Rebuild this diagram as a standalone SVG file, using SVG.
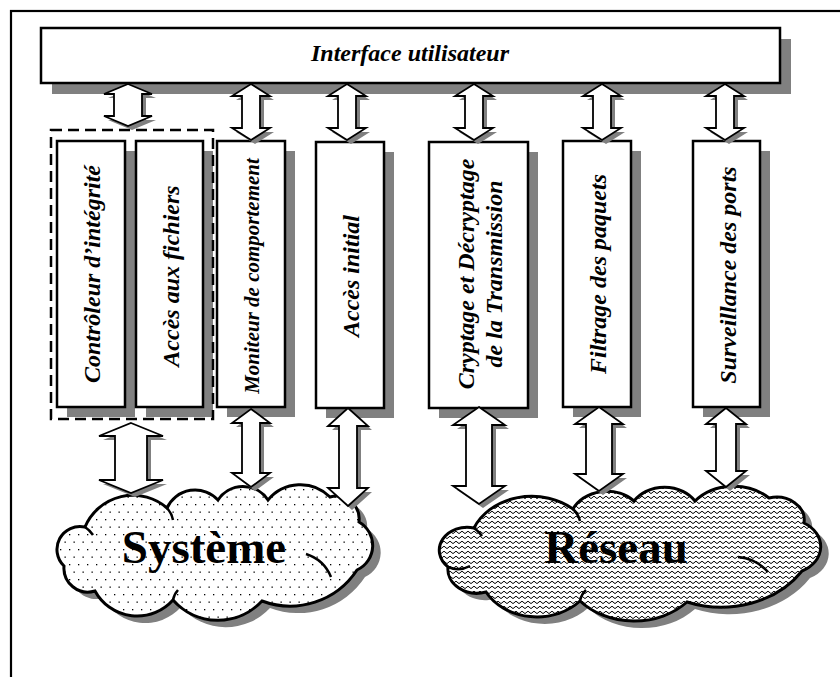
<svg xmlns="http://www.w3.org/2000/svg" xmlns:xlink="http://www.w3.org/1999/xlink" width="840" height="677" viewBox="0 0 840 677">
<style>
.shadow{fill:#808080;stroke:none}
.box{fill:#fff;stroke:#000;stroke-width:2.5}
.arr{fill:#fff;stroke:#000;stroke-width:1.8;stroke-linejoin:miter}
.lbl{font-family:"Liberation Serif","Times New Roman",serif;font-weight:bold;font-style:italic;fill:#000}
.big{font-family:"Liberation Serif","Times New Roman",serif;font-weight:bold;font-size:47px;fill:#000;text-anchor:middle}
.cloud{stroke:#000;stroke-width:3}
.inner{fill:none;stroke:#000;stroke-width:2.5}
</style>
<defs>
<pattern id="dots" patternUnits="userSpaceOnUse" width="9" height="15">
<rect width="9" height="15" fill="#fff"/>
<rect x="1.5" y="1.5" width="1.3" height="1.3" fill="#000"/>
<rect x="6" y="9" width="1.3" height="1.3" fill="#000"/>
</pattern>
<pattern id="zig" patternUnits="userSpaceOnUse" width="6" height="5">
<rect width="6" height="5" fill="#fff"/>
<path d="M0,1.2 L3,3.6 L6,1.2" fill="none" stroke="#000" stroke-width="1"/>
</pattern>
<path id="cloudS" d="M85,527 A23,23 0 0 0 64,566 A24,24 0 0 0 95,591 A48,48 0 0 0 173,600 A60,60 0 0 0 262,601 A80,80 0 0 0 357,570 A27,27 0 0 0 359,522 A23,23 0 0 0 330,497 A42,42 0 0 0 268,500 A30,30 0 0 0 218,500 A31,31 0 0 0 167,508 A52,52 0 0 0 85,527 Z"/>
<path id="cloudR" d="M474,528 A27.8,23 0 0 0 448,567 A29,24 0 0 0 486,592 A58,48 0 0 0 580,601 A72.4,60 0 0 0 687,602 A96.6,80 0 0 0 802,571 A32.6,27 0 0 0 804,523 A27.8,23 0 0 0 769,498 A50.7,42 0 0 0 695,501 A36.2,30 0 0 0 634,501 A37.4,31 0 0 0 573,509 A62.8,52 0 0 0 474,528 Z"/>
<path id="a0" d="M128,84 L152,94 L142,94 L142,116 L152,116 L128,126 L104,116 L114,116 L114,94 L104,94 Z"/>
<path id="a1" d="M251,84 L270,96 L260,96 L260,128 L270,128 L251,140 L232,128 L242,128 L242,96 L232,96 Z"/>
<path id="a2" d="M347,84 L366,96 L356,96 L356,128 L366,128 L347,140 L328,128 L338,128 L338,96 L328,96 Z"/>
<path id="a3" d="M474,84 L493,96 L483,96 L483,128 L493,128 L474,140 L455,128 L465,128 L465,96 L455,96 Z"/>
<path id="a4" d="M602,84 L621,96 L611,96 L611,128 L621,128 L602,140 L583,128 L593,128 L593,96 L583,96 Z"/>
<path id="a5" d="M725,84 L744,96 L734,96 L734,128 L744,128 L725,140 L706,128 L716,128 L716,96 L706,96 Z"/>
<path id="b0" d="M131,423 L163,436 L147,436 L147,480 L163,480 L131,493 L99,480 L115,480 L115,436 L99,436 Z"/>
<path id="b1" d="M251,409 L270,423 L260,423 L260,473 L270,473 L251,487 L232,473 L242,473 L242,423 L232,423 Z"/>
<path id="b2" d="M348,408 L368,426 L357,426 L357,488 L368,488 L348,506 L328,488 L339,488 L339,426 L328,426 Z"/>
<path id="b3" d="M479,407 L505,425 L492,425 L492,486 L505,486 L479,504 L453,486 L466,486 L466,425 L453,425 Z"/>
<path id="b4" d="M599,407 L623,424 L612,424 L612,474 L623,474 L599,491 L575,474 L586,474 L586,424 L575,424 Z"/>
<path id="b5" d="M726,408 L746,424 L736,424 L736,471 L746,471 L726,487 L706,471 L716,471 L716,424 L706,424 Z"/>
</defs>
<rect x="0" y="0" width="840" height="677" fill="#fff"/>
<rect id="frame" x="11" y="11" width="850" height="700" fill="none" stroke="#000" stroke-width="2.2"/>

<g id="systeme">
<use xlink:href="#cloudS" class="shadow" transform="translate(8,7)"/>
<use xlink:href="#cloudS" class="cloud" fill="url(#dots)"/>
<path class="inner" d="M306,554 A40,40 0 0 1 331,577 M173,600 A20,20 0 0 1 178,590 M167,508 A25,25 0 0 1 173,520 M85,527 A30,30 0 0 1 93,535"/>
<text class="big" x="204" y="563">Système</text>
</g>
<g id="reseau">
<use xlink:href="#cloudR" class="shadow" transform="translate(8,7)"/>
<use xlink:href="#cloudR" class="cloud" fill="url(#zig)"/>
<path class="inner" d="M738,557 A45,45 0 0 1 768,572 M580,601 A20,20 0 0 1 586,590 M573,509 A25,25 0 0 1 580,521 M474,528 A30,30 0 0 1 482,536 M448,567 A25,25 0 0 0 470,566"/>
<text class="big" x="616" y="563">Réseau</text>
</g>

<g id="interface">
<rect class="shadow" x="52" y="39" width="739" height="55"/>
<rect class="box" x="41" y="28" width="739" height="55"/>
<text class="lbl" x="410" y="61" font-size="24" text-anchor="middle">Interface utilisateur</text>
</g>

<g id="box-shadows">
<rect class="shadow" x="67" y="151" width="68" height="266"/>
<rect class="shadow" x="146" y="151" width="67" height="266"/>
<rect class="shadow" x="227" y="151" width="68" height="266"/>
<rect class="shadow" x="326" y="152" width="68" height="266"/>
<rect class="shadow" x="439" y="152" width="99" height="266"/>
<rect class="shadow" x="573" y="151" width="68" height="266"/>
<rect class="shadow" x="703" y="151" width="67" height="266"/>
</g>

<g id="controleur">
<rect class="box" x="57" y="141" width="68" height="266"/>
<text class="lbl" font-size="24" text-anchor="middle" transform="translate(91,274) rotate(-90)" x="0" y="9">Contrôleur d’intégrité</text>
</g>
<g id="acces-fichiers">
<rect class="box" x="136" y="141" width="67" height="266"/>
<text class="lbl" font-size="24" text-anchor="middle" transform="translate(169.5,276) rotate(-90)" x="0" y="9">Accès aux fichiers</text>
</g>
<g id="moniteur">
<rect class="box" x="217" y="141" width="68" height="266"/>
<text class="lbl" font-size="21" text-anchor="middle" transform="translate(251,276) rotate(-90)" x="0" y="8">Moniteur de comportement</text>
</g>
<g id="acces-initial">
<rect class="box" x="316" y="142" width="68" height="266"/>
<text class="lbl" font-size="24" text-anchor="middle" transform="translate(350,276) rotate(-90)" x="0" y="9">Accès initial</text>
</g>
<g id="cryptage">
<rect class="box" x="429" y="142" width="99" height="266"/>
<text class="lbl" font-size="24" text-anchor="middle" transform="translate(478.5,274) rotate(-90)"><tspan x="0" y="-5">Cryptage et Décryptage</tspan><tspan x="0" y="23">de la Transmission</tspan></text>
</g>
<g id="filtrage">
<rect class="box" x="563" y="141" width="68" height="266"/>
<text class="lbl" font-size="24" text-anchor="middle" transform="translate(597,274) rotate(-90)" x="0" y="9">Filtrage des paquets</text>
</g>
<g id="surveillance">
<rect class="box" x="693" y="141" width="67" height="266"/>
<text class="lbl" font-size="24" text-anchor="middle" transform="translate(726.5,275) rotate(-90)" x="0" y="9">Surveillance des ports</text>
</g>

<g id="groupe-systeme">
<rect x="51" y="130" width="162" height="289" fill="none" stroke="#000" stroke-width="2.5" stroke-dasharray="11 6"/>
</g>

<g id="connectors">
<use xlink:href="#a0" class="shadow" transform="translate(4,4)"/><use xlink:href="#a0" class="arr"/>
<use xlink:href="#a1" class="shadow" transform="translate(4,4)"/><use xlink:href="#a1" class="arr"/>
<use xlink:href="#a2" class="shadow" transform="translate(4,4)"/><use xlink:href="#a2" class="arr"/>
<use xlink:href="#a3" class="shadow" transform="translate(4,4)"/><use xlink:href="#a3" class="arr"/>
<use xlink:href="#a4" class="shadow" transform="translate(4,4)"/><use xlink:href="#a4" class="arr"/>
<use xlink:href="#a5" class="shadow" transform="translate(4,4)"/><use xlink:href="#a5" class="arr"/>
<use xlink:href="#b0" class="shadow" transform="translate(4,4)"/><use xlink:href="#b0" class="arr"/>
<use xlink:href="#b1" class="shadow" transform="translate(4,4)"/><use xlink:href="#b1" class="arr"/>
<use xlink:href="#b2" class="shadow" transform="translate(4,4)"/><use xlink:href="#b2" class="arr"/>
<use xlink:href="#b3" class="shadow" transform="translate(4,4)"/><use xlink:href="#b3" class="arr"/>
<use xlink:href="#b4" class="shadow" transform="translate(4,4)"/><use xlink:href="#b4" class="arr"/>
<use xlink:href="#b5" class="shadow" transform="translate(4,4)"/><use xlink:href="#b5" class="arr"/>
</g>
</svg>
